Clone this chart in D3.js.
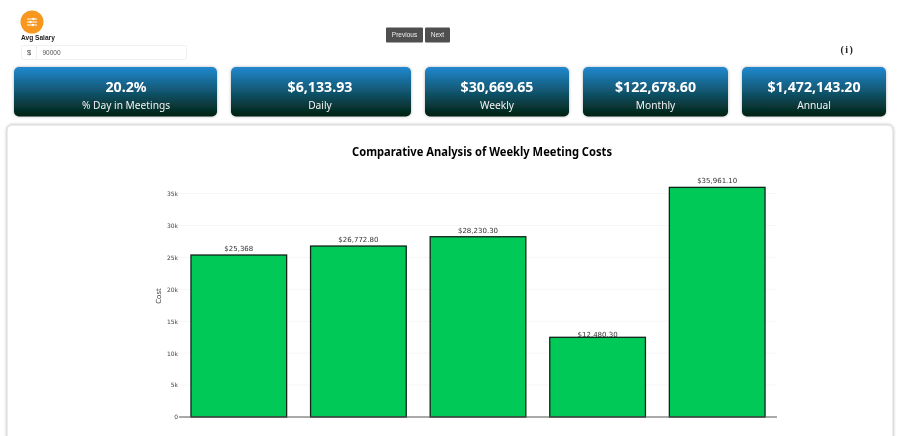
<!DOCTYPE html>
<html>
<head>
<meta charset="utf-8">
<script src="https://cdn.jsdelivr.net/npm/d3@7"></script>
<style>
html, body { margin: 0; padding: 0; background: #fff; overflow: hidden; }
svg { display: block; opacity: 0.999; }
</style>
</head>
<body>
<svg id="page" width="900" height="436"></svg>
<script>
// chart values
const categories = ["A", "B", "C", "D", "E"];
const costs = [25368, 26772.80, 28230.30, 12480.30, 35961.10];
const costLabels = ["$25,368", "$26,772.80", "$28,230.30", "$12,480.30", "$35,961.10"];
const yTicks = [0, 5000, 10000, 15000, 20000, 25000, 30000, 35000];

// summary cards
const cardValues = ["20.2%", "$6,133.93", "$30,669.65", "$122,678.60", "$1,472,143.20"];
const cardNames = ["% Day in Meetings", "Daily", "Weekly", "Monthly", "Annual"];
const cardLefts = [14, 231, 425, 583, 742];
const cardWidths = [203, 180, 144, 145, 144];
const cardTextCenters = [112, 89, 72, 72.5, 72];

const svg = d3.select("#page");
const defs = svg.append("defs");

const gradient = defs.append("linearGradient")
	.attr("id", "card-gradient")
	.attr("x1", "0%").attr("y1", "0%")
	.attr("x2", "0%").attr("y2", "100%");
gradient.append("stop").attr("offset", "0%").attr("stop-color", "#2189cf");
gradient.append("stop").attr("offset", "100%").attr("stop-color", "#01210f");

const shadow = defs.append("filter")
	.attr("id", "soft-shadow")
	.attr("x", "-5%").attr("y", "-10%")
	.attr("width", "110%").attr("height", "125%");
shadow.append("feDropShadow")
	.attr("dx", 0).attr("dy", 0)
	.attr("stdDeviation", 1.5)
	.attr("flood-color", "#000")
	.attr("flood-opacity", 0.3);

// salary control
const control = svg.append("g");
control.append("circle")
	.attr("cx", 32).attr("cy", 22).attr("r", 11.5)
	.attr("fill", "#f7971e");

// slider glyph in the orange button
const sliderRows = [[-5, 5, 1.5], [-5, 5, -1.5], [-5, 5, 0.8]];
sliderRows.forEach((row, i) => {
	const y = 19 + i * 3;
	control.append("line")
		.attr("x1", 32 + row[0]).attr("x2", 32 + row[1])
		.attr("y1", y).attr("y2", y)
		.attr("stroke", "#fff").attr("stroke-width", 1);
	control.append("circle")
		.attr("cx", 32 + row[2]).attr("cy", y).attr("r", 1.2)
		.attr("fill", "#fff");
});

control.append("text")
	.attr("x", 21).attr("y", 40)
	.attr("font-family", "Liberation Sans, Arial, sans-serif")
	.attr("font-size", 6.6)
	.attr("font-weight", "bold")
	.attr("fill", "#222")
	.text("Avg Salary");

control.append("rect")
	.attr("x", 21.5).attr("y", 45.5).attr("width", 165).attr("height", 14).attr("rx", 2)
	.attr("fill", "#fff").attr("stroke", "#eef0f2");
control.append("line")
	.attr("x1", 36.5).attr("x2", 36.5).attr("y1", 45.5).attr("y2", 59.5)
	.attr("stroke", "#eef0f2");
control.append("text")
	.attr("x", 29).attr("y", 55).attr("text-anchor", "middle")
	.attr("font-family", "Liberation Sans, Arial, sans-serif")
	.attr("font-size", 7.5).attr("fill", "#444")
	.text("$");
control.append("text")
	.attr("x", 42.5).attr("y", 55)
	.attr("font-family", "Liberation Sans, Arial, sans-serif")
	.attr("font-size", 6.5).attr("fill", "#555")
	.text("90000");

// paging buttons
const buttons = svg.append("g");
[["Previous", 386, 37], ["Next", 425, 25]].forEach(b => {
	buttons.append("rect")
		.attr("x", b[1]).attr("y", 27.5).attr("width", b[2]).attr("height", 15).attr("rx", 1)
		.attr("fill", "#4f4f4f");
	buttons.append("text")
		.attr("x", b[1] + b[2] / 2).attr("y", 37.2).attr("text-anchor", "middle")
		.attr("font-family", "Liberation Sans, Arial, sans-serif")
		.attr("font-size", 6.5).attr("fill", "#eee")
		.text(b[0]);
});

svg.append("text")
	.attr("x", 847.5).attr("y", 52.5).attr("text-anchor", "middle")
	.attr("font-family", "Liberation Serif, serif")
	.attr("font-size", 10).attr("font-weight", "bold")
	.attr("letter-spacing", 1.5).attr("fill", "#222")
	.text("(i)");

// summary cards
const card = svg.selectAll(".card")
	.data(cardValues)
	.enter()
	.append("g")
	.classed("card", true)
	.attr("transform", (d, i) => "translate(" + cardLefts[i] + ",67)");

card.append("rect")
	.attr("width", (d, i) => cardWidths[i])
	.attr("height", 49.5)
	.attr("rx", 5)
	.attr("fill", "url(#card-gradient)")
	.attr("filter", "url(#soft-shadow)");

card.append("text")
	.attr("x", (d, i) => cardTextCenters[i])
	.attr("y", 24.5)
	.attr("text-anchor", "middle")
	.attr("font-family", "Noto Sans, sans-serif")
	.attr("font-size", 14.2)
	.attr("font-weight", "bold")
	.attr("fill", "#fff")
	.text(d => d);

card.append("text")
	.attr("x", (d, i) => cardTextCenters[i])
	.attr("y", 41.5)
	.attr("text-anchor", "middle")
	.attr("font-family", "Noto Sans, sans-serif")
	.attr("font-size", 10.2)
	.attr("fill", "#f2f2f2")
	.text((d, i) => cardNames[i]);

// chart panel
svg.append("rect")
	.attr("x", 7).attr("y", 125).attr("width", 886).attr("height", 330).attr("rx", 5)
	.attr("fill", "#fff")
	.attr("stroke", "#cfcfcf")
	.attr("stroke-width", 0.8)
	.attr("filter", "url(#soft-shadow)");

svg.append("text")
	.attr("x", 482).attr("y", 156)
	.attr("text-anchor", "middle")
	.attr("font-family", "Noto Sans, sans-serif")
	.attr("font-size", 13)
	.attr("font-weight", "bold")
	.attr("fill", "#000")
	.attr("textLength", 260)
	.attr("lengthAdjust", "spacingAndGlyphs")
	.text("Comparative Analysis of Weekly Meeting Costs");

// bars
const x = d3.scaleBand()
	.domain(categories)
	.range([179, 777])
	.paddingInner(0.2)
	.paddingOuter(0.1);

const y = d3.scaleLinear()
	.domain([0, 35000])
	.range([417, 193.5]);

const y_axis = svg.append("g")
	.attr("transform", "translate(179,0)")
	.call(d3.axisLeft(y)
		.tickValues(yTicks)
		.tickFormat(d => d === 0 ? "0" : (d / 1000) + "k")
		.tickSize(0)
		.tickPadding(1));
y_axis.select(".domain").remove();
y_axis.selectAll("text")
	.attr("font-family", "DejaVu Sans, sans-serif")
	.attr("font-size", 6)
	.attr("fill", "#444");

// light grid, on top of which the bars sit
svg.append("g").selectAll("line")
	.data(yTicks.slice(1))
	.enter()
	.append("line")
	.attr("x1", 179).attr("x2", 777)
	.attr("y1", d => y(d)).attr("y2", d => y(d))
	.attr("stroke", "#f6f6f6");

svg.append("text")
	.attr("transform", "translate(161,296) rotate(-90)")
	.attr("text-anchor", "middle")
	.attr("font-family", "DejaVu Sans, sans-serif")
	.attr("font-size", 7)
	.attr("fill", "#333")
	.text("Cost");

svg.selectAll(".bar")
	.data(costs)
	.enter()
	.append("rect")
	.classed("bar", true)
	.attr("x", (d, i) => x(categories[i]))
	.attr("y", d => y(d))
	.attr("width", x.bandwidth())
	.attr("height", d => y(0) - y(d))
	.attr("fill", "#00c957")
	.attr("stroke", "#10241a")
	.attr("stroke-width", 1.3);

svg.append("line")
	.attr("x1", 179).attr("x2", 777)
	.attr("y1", y(0)).attr("y2", y(0))
	.attr("stroke", "#555");

// the short bar's label sits right on its top edge
svg.selectAll(".bar-label")
	.data(costs)
	.enter()
	.append("text")
	.classed("bar-label", true)
	.attr("x", (d, i) => x(categories[i]) + x.bandwidth() / 2)
	.attr("y", (d, i) => y(d) - (i === 3 ? 0.5 : 4))
	.attr("text-anchor", "middle")
	.attr("font-family", "DejaVu Sans, sans-serif")
	.attr("font-size", 7)
	.attr("fill", "#333")
	.text((d, i) => costLabels[i]);
</script>
</body>
</html>
